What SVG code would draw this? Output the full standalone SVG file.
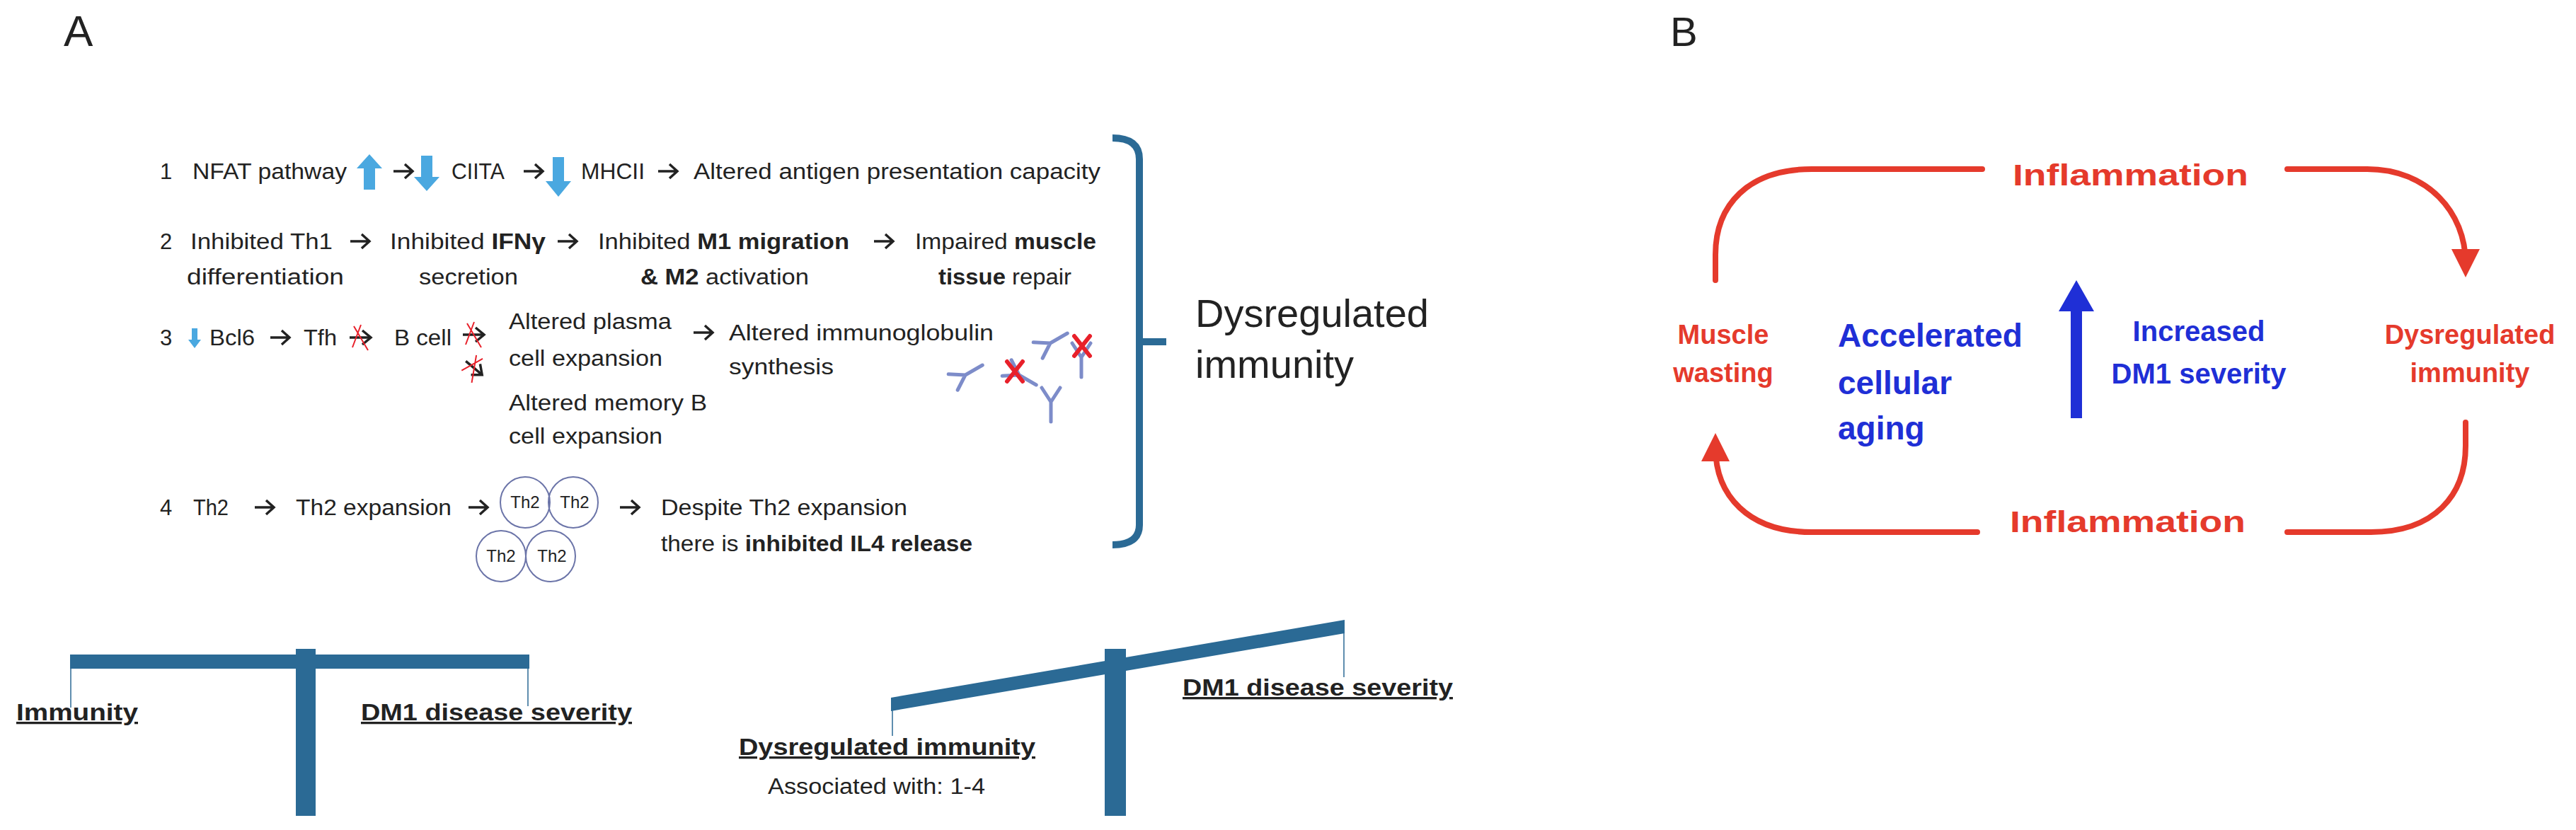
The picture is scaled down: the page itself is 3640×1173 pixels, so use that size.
<svg xmlns="http://www.w3.org/2000/svg" width="3640" height="1173" viewBox="0 0 3640 1173">
<defs>
<style>
text{font-family:"Liberation Sans",Arial,sans-serif;fill:#222}
.t{font-size:31px}
.b{font-weight:bold}
.lbl{font-size:33px;font-weight:bold;text-decoration:underline}
.bar{fill:#2b6a95}
.wh{stroke:#2b6a95;stroke-width:1.5;fill:none}
.red{fill:#e53a2c;font-weight:bold}
.blue{fill:#1f2fd6;font-weight:bold}
.rl{stroke:#e53a2c;stroke-width:8;fill:none;stroke-linecap:round}
.ab{stroke:#7d8cc9;stroke-width:5;fill:none;stroke-linecap:round}
.x{stroke:#e8202a;stroke-width:6;stroke-linecap:round}
.lb{fill:#4aa8e0}
.circ{fill:none;stroke:#6b74a8;stroke-width:2}
.ka{stroke:#222;stroke-width:3.5;fill:none}
</style>
<marker id="rh" viewBox="0 0 10 10" refX="5" refY="5" markerWidth="5" markerHeight="5" orient="auto"><path d="M0,0 L10,5 L0,10 z" fill="#e53a2c"/></marker>
<g id="karrow"><path class="ka" d="M0,0 H26 M16,-10 L27,0 L16,10"/></g>
<g id="xarrow"><path d="M-18,0 H10" stroke="#222" stroke-width="3.5"/><path d="M0,-10 L12,0 L0,10" stroke="#222" stroke-width="3.5" fill="none"/><path d="M-12,-16 L8,18 M-2,-18 L-14,14" stroke="#e8202a" stroke-width="2"/></g>
<g id="yab"><path d="M0,0 L-13,-20 M0,0 L13,-20 M0,0 L0,28"/></g>
</defs>

<text x="90" y="65" style="font-size:62px">A</text>

<g id="row1" class="t">
<text x="226" y="253">1</text>
<text x="272" y="253" textLength="218" lengthAdjust="spacingAndGlyphs">NFAT pathway</text>
<path class="lb" d="M522,218 L540,238 L530,238 L530,268 L514,268 L514,238 L504,238 z"/>
<use href="#karrow" x="556" y="242"/>
<path class="lb" d="M603,270 L621,250 L611,250 L611,220 L595,220 L595,250 L585,250 z"/>
<text x="638" y="253" textLength="75" lengthAdjust="spacingAndGlyphs">CIITA</text>
<use href="#karrow" x="740" y="242"/>
<path class="lb" d="M789,278 L807,256 L797,256 L797,222 L781,222 L781,256 L771,256 z"/>
<text x="821" y="253" textLength="90" lengthAdjust="spacingAndGlyphs">MHCII</text>
<use href="#karrow" x="930" y="242"/>
<text x="980" y="253" textLength="575" lengthAdjust="spacingAndGlyphs">Altered antigen presentation capacity</text>
</g>

<g id="row2" class="t">
<text x="226" y="352">2</text>
<text x="269" y="352" textLength="201" lengthAdjust="spacingAndGlyphs">Inhibited Th1</text>
<text x="264" y="402" textLength="222" lengthAdjust="spacingAndGlyphs">differentiation</text>
<use href="#karrow" x="495" y="341"/>
<text x="551" y="352" textLength="220" lengthAdjust="spacingAndGlyphs">Inhibited <tspan class="b">IFNγ</tspan></text>
<text x="592" y="402" textLength="140" lengthAdjust="spacingAndGlyphs">secretion</text>
<use href="#karrow" x="788" y="341"/>
<text x="845" y="352" textLength="355" lengthAdjust="spacingAndGlyphs">Inhibited <tspan class="b">M1 migration</tspan></text>
<text x="905" y="402" textLength="238" lengthAdjust="spacingAndGlyphs"><tspan class="b">&amp; M2</tspan> activation</text>
<use href="#karrow" x="1235" y="341"/>
<text x="1293" y="352" textLength="256" lengthAdjust="spacingAndGlyphs">Impaired <tspan class="b">muscle</tspan></text>
<text x="1326" y="402" textLength="188" lengthAdjust="spacingAndGlyphs"><tspan class="b">tissue</tspan> repair</text>
</g>

<g id="row3" class="t">
<text x="226" y="488">3</text>
<path class="lb" d="M275,492 L284,480 L279,480 L279,464 L271,464 L271,480 L266,480 z"/>
<text x="296" y="488" textLength="64" lengthAdjust="spacingAndGlyphs">Bcl6</text>
<use href="#karrow" x="382" y="477"/>
<text x="429" y="488" textLength="47" lengthAdjust="spacingAndGlyphs">Tfh</text>
<use href="#xarrow" x="512" y="477"/>
<text x="557" y="488" textLength="81" lengthAdjust="spacingAndGlyphs">B cell</text>
<use href="#xarrow" x="672" y="473"/>
<use href="#xarrow" transform="translate(672,522) rotate(40)"/>
<text x="719" y="465" textLength="230" lengthAdjust="spacingAndGlyphs">Altered plasma</text>
<text x="719" y="517" textLength="217" lengthAdjust="spacingAndGlyphs">cell expansion</text>
<text x="719" y="580" textLength="280" lengthAdjust="spacingAndGlyphs">Altered memory B</text>
<text x="719" y="627" textLength="217" lengthAdjust="spacingAndGlyphs">cell expansion</text>
<use href="#karrow" x="980" y="470"/>
<text x="1030" y="481" textLength="374" lengthAdjust="spacingAndGlyphs">Altered immunoglobulin</text>
<text x="1030" y="529" textLength="148" lengthAdjust="spacingAndGlyphs">synthesis</text>
</g>

<g id="antibodies">
<use href="#yab" class="ab" transform="translate(1484,485) rotate(-120)"/>
<use href="#yab" class="ab" transform="translate(1364,530) rotate(-120)"/>
<use href="#yab" class="ab" transform="translate(1440,530) rotate(-60)"/>
<use href="#yab" class="ab" transform="translate(1528,505) rotate(0)"/>
<use href="#yab" class="ab" transform="translate(1485,568) rotate(0)"/>
<path class="x" d="M1518,475 L1540,503 M1540,475 L1518,503"/>
<path class="x" d="M1423,511 L1445,539 M1445,511 L1423,539"/>
</g>

<g id="row4" class="t">
<text x="226" y="728">4</text>
<text x="273" y="728" textLength="50" lengthAdjust="spacingAndGlyphs">Th2</text>
<use href="#karrow" x="360" y="717"/>
<text x="418" y="728" textLength="220" lengthAdjust="spacingAndGlyphs">Th2 expansion</text>
<use href="#karrow" x="662" y="717"/>
<g id="th2cells" style="font-size:24px">
<ellipse class="circ" cx="742" cy="710" rx="35" ry="36"/>
<ellipse class="circ" cx="810" cy="710" rx="35" ry="36"/>
<ellipse class="circ" cx="708" cy="786" rx="35" ry="36"/>
<ellipse class="circ" cx="778" cy="786" rx="35" ry="36"/>
<text x="742" y="718" text-anchor="middle">Th2</text>
<text x="812" y="718" text-anchor="middle">Th2</text>
<text x="708" y="794" text-anchor="middle">Th2</text>
<text x="780" y="794" text-anchor="middle">Th2</text>
</g>
<use href="#karrow" x="876" y="717"/>
<text x="934" y="728" textLength="348" lengthAdjust="spacingAndGlyphs">Despite Th2 expansion</text>
<text x="934" y="779" textLength="440" lengthAdjust="spacingAndGlyphs">there is <tspan class="b">inhibited IL4 release</tspan></text>
</g>

<g id="bracket">
<path d="M1572,195 Q1610,195 1610,225 L1610,742 Q1610,770 1572,770 M1610,483 L1648,483" fill="none" stroke="#2b6a95" stroke-width="10"/>
<text x="1689" y="462" style="font-size:56px">Dysregulated</text>
<text x="1689" y="534" style="font-size:56px">immunity</text>
</g>

<g id="balance1">
<rect class="bar" x="99" y="925" width="649" height="20"/>
<rect class="bar" x="418" y="917" width="28" height="236"/>
<path class="wh" d="M100,945 V1000 M746,945 V998"/>
<text x="23" y="1018" class="lbl" textLength="172" lengthAdjust="spacingAndGlyphs">Immunity</text>
<text x="510" y="1018" class="lbl" textLength="383" lengthAdjust="spacingAndGlyphs">DM1 disease severity</text>
</g>

<g id="balance2">
<path class="bar" d="M1259,986 L1900,876 L1900,895 L1259,1005 z"/>
<rect class="bar" x="1561" y="917" width="30" height="236"/>
<path class="wh" d="M1261,1004 V1040 M1899,894 V957"/>
<text x="1671" y="983" class="lbl" textLength="382" lengthAdjust="spacingAndGlyphs">DM1 disease severity</text>
<text x="1044" y="1067" class="lbl" textLength="419" lengthAdjust="spacingAndGlyphs">Dysregulated immunity</text>
<text x="1085" y="1122" class="t" textLength="307" lengthAdjust="spacingAndGlyphs">Associated with: 1-4</text>
</g>

<text x="2360" y="65" style="font-size:58px">B</text>

<g id="connectors">
<path class="rl" d="M2424,396 L2424,360 C2424,290 2470,239 2560,239 L2801,239"/>
<path class="rl" d="M3232,239 L3345,239 C3430,239 3484,300 3484,372" marker-end="url(#rh)"/>
<path class="rl" d="M3484,597 L3484,630 C3484,700 3440,752 3350,752 L3232,752"/>
<path class="rl" d="M2794,752 L2560,752 C2470,752 2424,700 2424,632" marker-end="url(#rh)"/>
<path d="M2926,591 L2926,440 L2909,440 L2934,396 L2959,440 L2942,440 L2942,591 z" fill="#1f2fd6"/>
</g>

<g id="inflTop"><text x="2844" y="262" class="red" style="font-size:42px" textLength="333" lengthAdjust="spacingAndGlyphs">Inflammation</text></g>
<g id="inflBot"><text x="2840" y="752" class="red" style="font-size:42px" textLength="333" lengthAdjust="spacingAndGlyphs">Inflammation</text></g>
<g id="muscle" style="font-size:38px">
<text x="2435" y="486" text-anchor="middle" class="red">Muscle</text>
<text x="2435" y="540" text-anchor="middle" class="red">wasting</text>
</g>
<g id="dysB" style="font-size:38px">
<text x="3490" y="486" text-anchor="middle" class="red">Dysregulated</text>
<text x="3490" y="540" text-anchor="middle" class="red">immunity</text>
</g>
<g id="aging" style="font-size:46px">
<text x="2597" y="490" class="blue">Accelerated</text>
<text x="2597" y="557" class="blue">cellular</text>
<text x="2597" y="621" class="blue">aging</text>
</g>
<g id="increased" style="font-size:40px">
<text x="3107" y="482" text-anchor="middle" class="blue">Increased</text>
<text x="3107" y="542" text-anchor="middle" class="blue">DM1 severity</text>
</g>
</svg>
